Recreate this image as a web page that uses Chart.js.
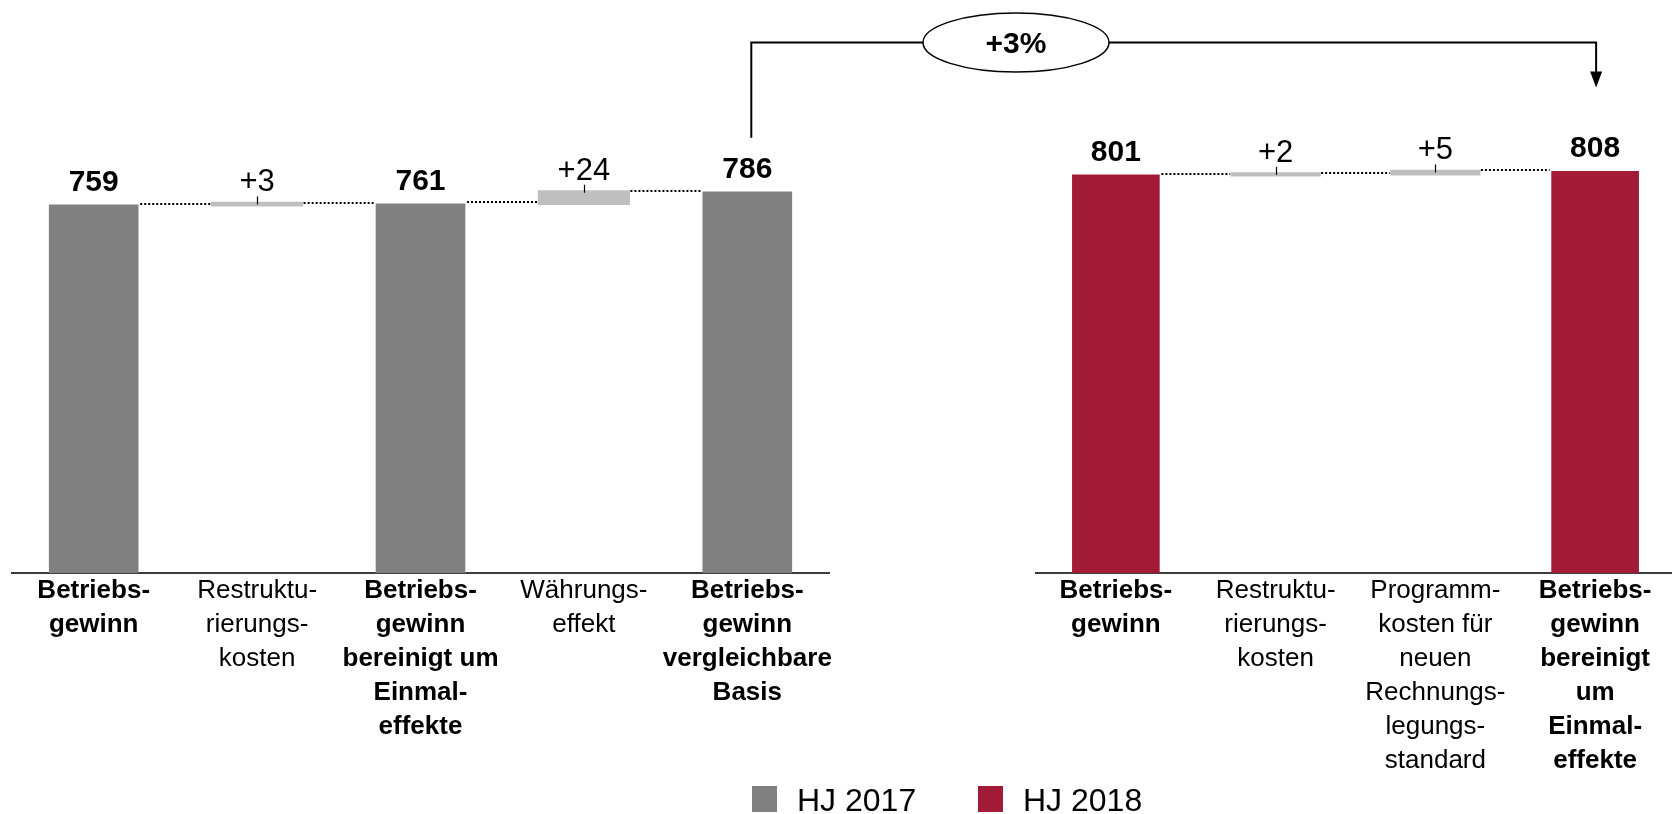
<!DOCTYPE html>
<html>
<head>
<meta charset="utf-8">
<script src="https://cdn.jsdelivr.net/npm/chart.js@4.4.1/dist/chart.umd.min.js"></script>
<style>
  html, body { margin: 0; padding: 0; background: #fff; overflow: hidden; width: 1672px; height: 814px; }
  #wrap { position: relative; width: 1672px; height: 814px; overflow: hidden; }
  canvas { position: absolute; top: 0; }
  #c2017 { left: 0; }
  #c2018 { left: 1020px; }
  #overlay { left: 0; pointer-events: none; }
</style>
</head>
<body>
<div id="wrap">
  <canvas id="c2017" width="840" height="814"></canvas>
  <canvas id="c2018" width="660" height="814"></canvas>
  <canvas id="overlay" width="1672" height="814"></canvas>
</div>
<script>
// ---- Operating profit bridge, half-year 2017 ----
const categories2017 = [
  ["Betriebs-", "gewinn"],
  ["Restruktu-", "rierungs-", "kosten"],
  ["Betriebs-", "gewinn", "bereinigt um", "Einmal-", "effekte"],
  ["Währungs-", "effekt"],
  ["Betriebs-", "gewinn", "vergleichbare", "Basis"]
];
const isTotal2017 = [true, false, true, false, true];
const totals2017 = [759, null, 761, null, 786];
const steps2017 = [null, [759, 762], null, [762, 786], null];

// ---- Operating profit bridge, half-year 2018 ----
const categories2018 = [
  ["Betriebs-", "gewinn"],
  ["Restruktu-", "rierungs-", "kosten"],
  ["Programm-", "kosten für", "neuen", "Rechnungs-", "legungs-", "standard"],
  ["Betriebs-", "gewinn", "bereinigt", "um", "Einmal-", "effekte"]
];
const isTotal2018 = [true, false, false, true];
const totals2018 = [801, null, null, 808];
const steps2018 = [null, [801, 803], [803, 808], null];

const seriesNames = ["HJ 2017", "HJ 2018"];
const seriesColors = ["#808080", "#A21C38"];
const stepColor = "#BFBFBF";
const FONT = "'Liberation Sans', Arial, Helvetica, sans-serif";

// Value labels, tick marks and dotted connectors of a waterfall
const waterfallPlugin = {
  id: 'waterfall',
  afterDatasetsDraw(chart) {
    const ctx = chart.ctx;
    const yScale = chart.scales.y;
    const totals = chart.data.datasets[0].data;
    const steps = chart.data.datasets[1].data;
    const mTot = chart.getDatasetMeta(0).data;
    const mStep = chart.getDatasetMeta(1).data;
    const cols = totals.map((v, i) => v != null
      ? { el: mTot[i], start: 0, end: v, total: true }
      : { el: mStep[i], start: steps[i][0], end: steps[i][1], total: false });

    ctx.save();
    // dotted connectors
    ctx.strokeStyle = '#000';
    ctx.lineWidth = 2;
    ctx.setLineDash([2, 2]);
    for (let i = 0; i < cols.length - 1; i++) {
      const a = cols[i], b = cols[i + 1];
      const level = b.total ? b.end : b.start;
      const py = Math.round(yScale.getPixelForValue(level)) - 1;
      const x1 = a.el.x + a.el.width / 2 + 2;
      const x2 = b.el.x - b.el.width / 2 - 2;
      ctx.beginPath();
      ctx.moveTo(x1, py);
      ctx.lineTo(x2, py);
      ctx.stroke();
    }
    ctx.setLineDash([]);

    // labels
    ctx.fillStyle = '#000';
    ctx.textAlign = 'center';
    ctx.textBaseline = 'alphabetic';
    cols.forEach(c => {
      const top = yScale.getPixelForValue(c.end);
      if (c.total) {
        ctx.font = 'bold 30px ' + FONT;
        ctx.fillText(String(c.end), c.el.x, top - 14);
      } else {
        ctx.strokeStyle = '#000';
        ctx.lineWidth = 1.2;
        ctx.beginPath();
        ctx.moveTo(Math.round(c.el.x) + 0.5, top - 7);
        ctx.lineTo(Math.round(c.el.x) + 0.5, top + 1);
        ctx.stroke();
        ctx.font = '31px ' + FONT;
        ctx.fillText('+' + (c.end - c.start), c.el.x, top - 12);
      }
    });
    ctx.restore();
  }
};

function makeChart(id, categories, isTotal, totals, steps, color, name, padding) {
  return new Chart(document.getElementById(id), {
    type: 'bar',
    data: {
      labels: categories,
      datasets: [
        { label: name, data: totals, backgroundColor: color, grouped: false,
          barPercentage: 0.545, categoryPercentage: 1.0, inflateAmount: 0.3 },
        { label: 'Veränderung', data: steps, backgroundColor: stepColor, grouped: false,
          barPercentage: 0.545, categoryPercentage: 1.0, inflateAmount: 1.6 }
      ]
    },
    options: {
      responsive: false,
      animation: false,
      events: [],
      layout: { padding: padding },
      plugins: { legend: { display: false }, tooltip: { enabled: false } },
      scales: {
        x: {
          grid: { display: false, drawTicks: false },
          border: { display: true, color: '#3C3C3C', width: 2 },
          ticks: {
            autoSkip: false, maxRotation: 0, minRotation: 0, padding: 1,
            color: '#000',
            font: (c) => ({ family: FONT, size: 26, lineHeight: 34 / 26,
                            weight: isTotal[c.index] ? 'bold' : 'normal' })
          },
          afterFit: (s) => { s.height = 814 - 573; }
        },
        y: { display: false, min: 0, max: 1000 }
      }
    },
    plugins: [waterfallPlugin]
  });
}

const chart2017 = makeChart('c2017', categories2017, isTotal2017, totals2017, steps2017,
  seriesColors[0], seriesNames[0], { left: 12, right: 11, top: 88, bottom: 0 });
const chart2018 = makeChart('c2018', categories2018, isTotal2018, totals2018, steps2018,
  seriesColors[1], seriesNames[1], { left: 16, right: 5, top: 76, bottom: 0 });

// Year-over-year bracket and legend
function drawOverlay() {
  const cv = document.getElementById('overlay');
  const ctx = cv.getContext('2d');
  const offA = document.getElementById('c2017').offsetLeft;
  const offB = document.getElementById('c2018').offsetLeft;
  const barA = chart2017.getDatasetMeta(0).data[4];
  const barB = chart2018.getDatasetMeta(0).data[3];
  const xA = offA + barA.x + 4;
  const xB = offB + barB.x + 1;
  const yTopA = barA.y, yTopB = barB.y;
  const yLine = 42.5;
  const growth = Math.round((totals2018[3] / totals2017[4] - 1) * 100);

  ctx.strokeStyle = '#000';
  ctx.lineWidth = 2;
  ctx.beginPath();
  ctx.moveTo(xA, yTopA - 54);
  ctx.lineTo(xA, yLine);
  ctx.lineTo(xB, yLine);
  ctx.lineTo(xB, yTopB - 98);
  ctx.stroke();
  // arrow head
  ctx.fillStyle = '#000';
  ctx.beginPath();
  ctx.moveTo(xB - 6, yTopB - 100);
  ctx.lineTo(xB + 6, yTopB - 100);
  ctx.lineTo(xB, yTopB - 84);
  ctx.closePath();
  ctx.fill();

  // ellipse with growth rate
  const ex = 1016, ry = 29.5, rx = 93;
  ctx.beginPath();
  ctx.ellipse(ex, yLine, rx, ry, 0, 0, Math.PI * 2);
  ctx.fillStyle = '#fff';
  ctx.fill();
  ctx.lineWidth = 1.5;
  ctx.stroke();
  ctx.fillStyle = '#000';
  ctx.font = 'bold 30px ' + FONT;
  ctx.textAlign = 'center';
  ctx.textBaseline = 'alphabetic';
  ctx.fillText((growth >= 0 ? '+' : '') + growth + '%', ex, yLine + 10);

  // legend
  const legendX = [752, 978];
  ctx.textAlign = 'left';
  ctx.font = '32px ' + FONT;
  seriesNames.forEach((n, i) => {
    ctx.fillStyle = seriesColors[i];
    ctx.fillRect(legendX[i], 786, 25, 26);
    ctx.fillStyle = '#000';
    ctx.fillText(n, legendX[i] + 45, 811);
  });
}
drawOverlay();
</script>
</body>
</html>
